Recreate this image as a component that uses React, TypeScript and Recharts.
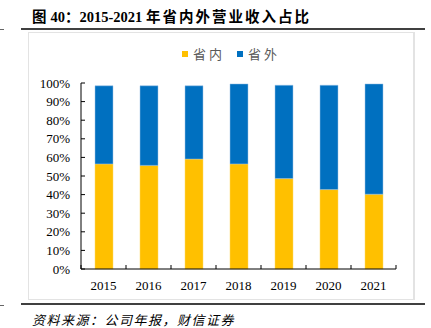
import React from "react";
import { BarChart, Bar, XAxis, YAxis } from "recharts";

if (typeof document !== "undefined") document.body.style.margin = "0";

const years = ["2015", "2016", "2017", "2018", "2019", "2020", "2021"];
const inProvince = [56.5, 55.7, 59.1, 56.5, 48.6, 42.7, 40.2];
const outProvince = [42.0, 42.8, 39.4, 43.0, 50.2, 56.1, 59.3];
const yTicks = [0, 10, 20, 30, 40, 50, 60, 70, 80, 90, 100];

const data = years.map((year, i) => ({
  year,
  in: inProvince[i],
  out: outProvince[i],
}));

const W = 431;
const H = 328;
const PLOT_LEFT = 81;
const PLOT_RIGHT = 396;
const BAND = (PLOT_RIGHT - PLOT_LEFT) / years.length;

const serif = '"Liberation Serif", "Times New Roman", "Noto Sans CJK SC", serif';
const cjk = '"Liberation Serif", "Noto Sans CJK SC", serif';

function XTick(props: any) {
  const { x, y, payload, index } = props;
  return (
    <g>
      <line x1={x - BAND / 2} x2={x - BAND / 2} y1={y} y2={y - 4} stroke="#000" />
      {index === years.length - 1 && (
        <line x1={x + BAND / 2} x2={x + BAND / 2} y1={y} y2={y - 4} stroke="#000" />
      )}
      <text x={x} y={y + 21} textAnchor="middle" fontSize={13} fontFamily={serif} fill="#000">
        {payload.value}
      </text>
    </g>
  );
}

function YTick(props: any) {
  const { x, y, payload } = props;
  return (
    <g>
      <line x1={x} x2={x + 4} y1={y} y2={y} stroke="#000" />
      <text x={x - 11} y={y + 4.5} textAnchor="end" fontSize={13} fontFamily={serif} fill="#000">
        {payload.value}%
      </text>
    </g>
  );
}

const legendItems = [
  { label: "省内", color: "#FFC000" },
  { label: "省外", color: "#0070C0" },
];

export default function App() {
  return (
    <div style={{ position: "relative", width: W, height: H, background: "#fff", overflow: "hidden" }}>
      {/* title */}
      <div
        style={{
          position: "absolute",
          left: 32,
          top: 5,
          fontFamily: cjk,
          fontWeight: "bold",
          fontSize: 14.5,
          color: "#000",
          whiteSpace: "nowrap",
        }}
      >
        <span style={{ letterSpacing: 4 }}>图</span>
        <span>40：2015-2021 </span>
        <span style={{ letterSpacing: 2 }}>年省内外营业收入占比</span>
      </div>
      <div style={{ position: "absolute", left: 0, top: 29, width: 4, height: 1, background: "#666" }} />
      <div style={{ position: "absolute", left: 21, top: 28, width: 404, height: 2, background: "#404040" }} />
      {/* frame */}
      <div
        style={{
          position: "absolute",
          left: 28,
          top: 32,
          width: 384,
          height: 266,
          border: "1px solid #e3e3e3",
          borderRightWidth: 2,
        }}
      />
      {/* legend */}
      <div
        style={{
          position: "absolute",
          left: 182,
          top: 44,
          display: "flex",
          gap: 12,
          fontFamily: cjk,
          fontSize: 13,
          color: "#595959",
        }}
      >
        {legendItems.map((it) => (
          <div key={it.label} style={{ display: "flex", alignItems: "center", gap: 5 }}>
            <span style={{ width: 6, height: 6, background: it.color, display: "inline-block" }} />
            <span style={{ letterSpacing: 3 }}>{it.label}</span>
          </div>
        ))}
      </div>
      <div style={{ position: "absolute", left: 0, top: 0 }}>
        <BarChart
          width={W}
          height={H}
          data={data}
          margin={{ top: 83, right: W - PLOT_RIGHT, bottom: 29, left: 0 }}
        >
          <YAxis
            width={PLOT_LEFT}
            domain={[0, 100]}
            ticks={yTicks}
            interval={0}
            tickLine={false}
            tickSize={0}
            tickMargin={0}
            axisLine={{ stroke: "#000" }}
            tick={<YTick />}
          />
          <XAxis
            dataKey="year"
            height={30}
            tickLine={false}
            tickSize={0}
            tickMargin={0}
            axisLine={{ stroke: "#000" }}
            tick={<XTick />}
            interval={0}
          />
          <Bar dataKey="in" stackId="a" fill="#FFC000" stroke="#FFD966" strokeWidth={0.5} barSize={18} isAnimationActive={false} />
          <Bar dataKey="out" stackId="a" fill="#0070C0" stroke="#9DC3E6" strokeWidth={0.5} barSize={18} isAnimationActive={false} />
        </BarChart>
      </div>
      <div style={{ position: "absolute", left: 0, top: 305, width: 4, height: 1, background: "#666" }} />
      <div style={{ position: "absolute", left: 21, top: 303, width: 404, height: 2, background: "#404040" }} />
      <div
        style={{
          position: "absolute",
          left: 32,
          top: 310,
          fontFamily: cjk,
          fontStyle: "italic",
          fontSize: 13,
          letterSpacing: 1.5,
          color: "#000",
          whiteSpace: "nowrap",
        }}
      >
        资料来源：公司年报，财信证券
      </div>
    </div>
  );
}
